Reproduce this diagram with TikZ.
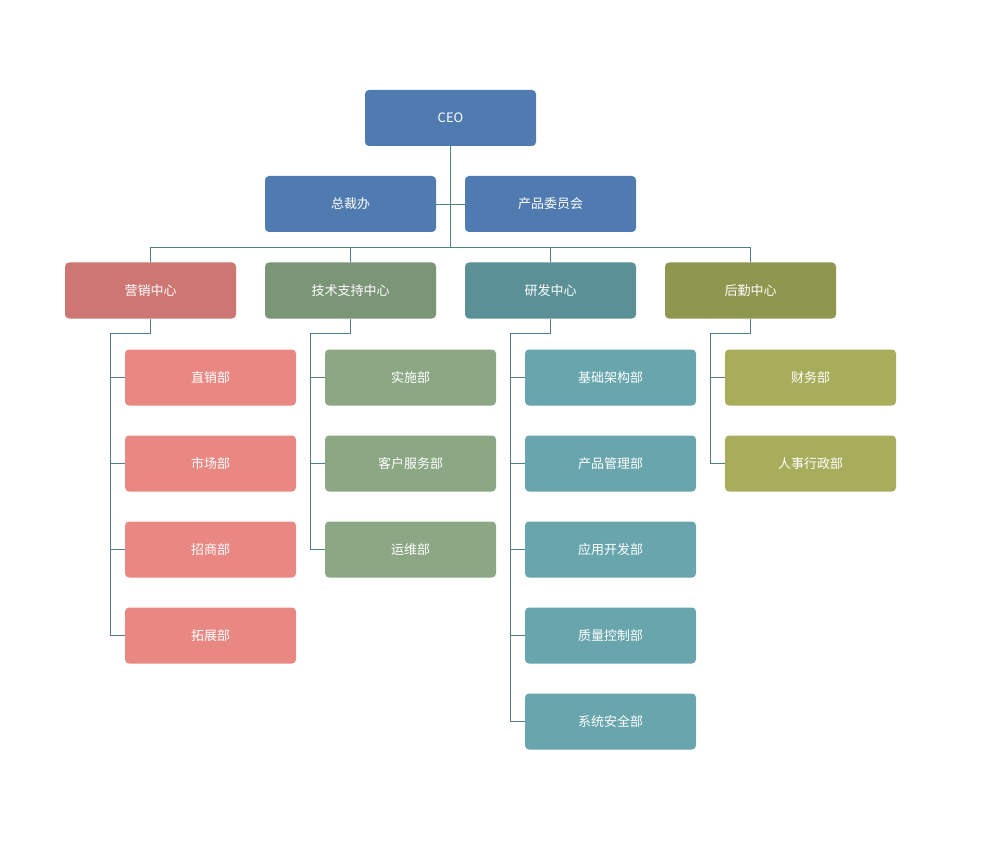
\documentclass[tikz,border=0pt]{standalone}
\usepackage{fontspec}
\setmainfont{Noto Sans CJK SC}
\begin{document}
\begin{tikzpicture}[x=1pt,y=-1pt,
 box/.style={draw=none,rounded corners=4pt,minimum width=171pt,minimum height=56pt,inner sep=0pt,text=white,font=\fontsize{13}{15}\selectfont},
 ln/.style={draw=lcol,line width=0.6pt}]
\definecolor{lcol}{HTML}{4F7F89}
\definecolor{cb}{HTML}{4F7BB0}
\definecolor{cm}{HTML}{CD7672}\definecolor{cmc}{HTML}{E98883}
\definecolor{ct}{HTML}{7B9677}\definecolor{ctc}{HTML}{8BA784}
\definecolor{cr}{HTML}{5B9097}\definecolor{crc}{HTML}{68A5AD}
\definecolor{cl}{HTML}{8F964E}\definecolor{clc}{HTML}{A8AD5C}
\useasboundingbox (0,0) rectangle (993,850);
\node[box,fill=cb] (ceo) at (450.5,118) {CEO};
\node[box,fill=cb] (zc) at (350.5,204) {总裁办};
\node[box,fill=cb] (cp) at (550.5,204) {产品委员会};
\node[box,fill=cm] (m) at (150.5,290.5) {营销中心};
\node[box,fill=ct] (t) at (350.5,290.5) {技术支持中心};
\node[box,fill=cr] (r) at (550.5,290.5) {研发中心};
\node[box,fill=cl] (l) at (750.5,290.5) {后勤中心};
\foreach \n/\t [count=\i] in {m1/直销部,m2/市场部,m3/招商部,m4/拓展部}
  \node[box,fill=cmc] (\n) at (210.5,291.5+86*\i) {\t};
\foreach \n/\t [count=\i] in {t1/实施部,t2/客户服务部,t3/运维部}
  \node[box,fill=ctc] (\n) at (410.5,291.5+86*\i) {\t};
\foreach \n/\t [count=\i] in {r1/基础架构部,r2/产品管理部,r3/应用开发部,r4/质量控制部,r5/系统安全部}
  \node[box,fill=crc] (\n) at (610.5,291.5+86*\i) {\t};
\foreach \n/\t [count=\i] in {l1/财务部,l2/人事行政部}
  \node[box,fill=clc] (\n) at (810.5,291.5+86*\i) {\t};
\coordinate (bus) at (450.5,247);
\draw[ln] (ceo.south) -- (bus);
\draw[ln] (zc.east) -- (cp.west);
\draw[ln] (m.north) |- (l.north |- bus) -- (l.north);
\draw[ln] (t.north) -- (t.north |- bus);
\draw[ln] (r.north) -- (r.north |- bus);
\foreach \p/\last/\kids in {m/m4/{m1,m2,m3,m4},t/t3/{t1,t2,t3},r/r5/{r1,r2,r3,r4,r5},l/l2/{l1,l2}}{
  \draw[ln] (\p.south) -- ++(0,15) -| ([xshift=-15pt]\last.west) -- (\last.west);
  \foreach \k in \kids { \draw[ln] ([xshift=-15pt]\k.west) -- (\k.west); }
}
\end{tikzpicture}
\end{document}
